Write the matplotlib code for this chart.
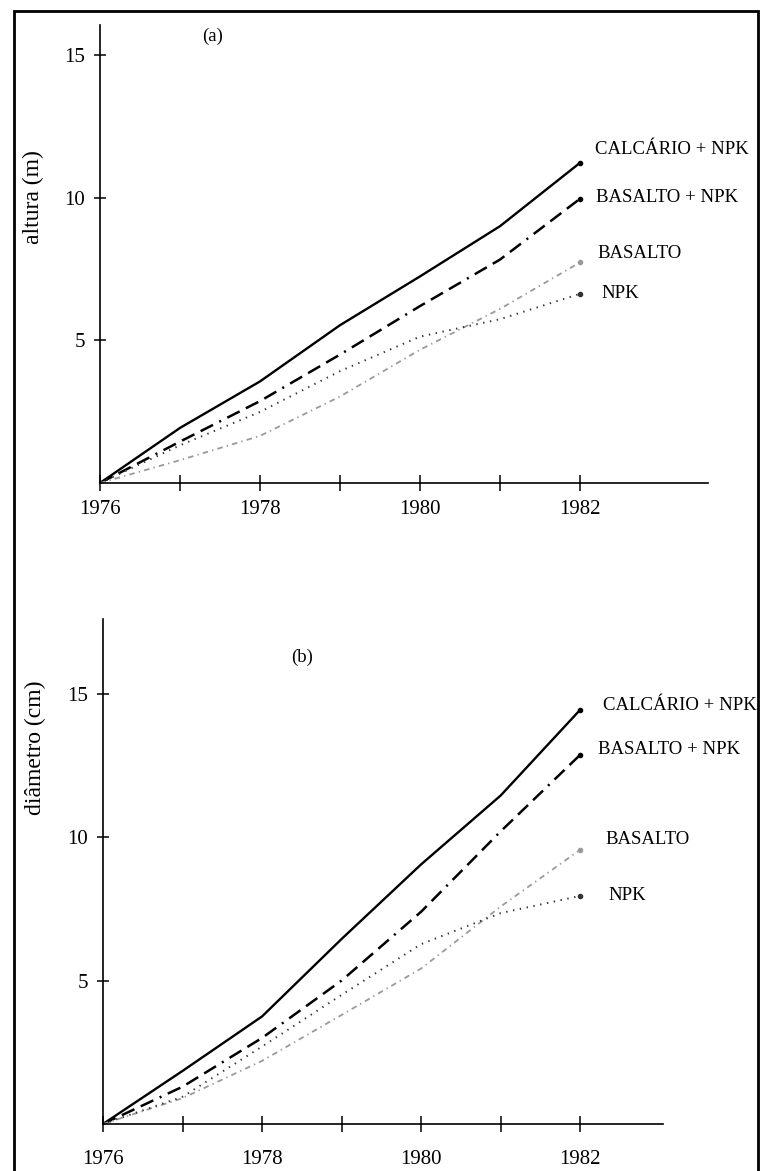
import matplotlib
matplotlib.use("Agg")
import matplotlib.pyplot as plt
from matplotlib.patches import Rectangle

plt.rcParams["font.family"] = ["Liberation Serif", "DejaVu Serif"]
plt.rcParams["lines.scale_dashes"] = False

W, H = 760, 1171

years = [1976, 1977, 1978, 1979, 1980, 1981, 1982]
series_names = ["CALCÁRIO + NPK", "BASALTO + NPK", "BASALTO", "NPK"]

# (a) altura (m)
calc_npk_a = [0, 1.93, 3.56, 5.53, 7.24, 9.0, 11.22]
bas_npk_a = [0, 1.45, 2.87, 4.5, 6.2, 7.83, 9.96]
basalto_a = [0, 0.8, 1.65, 3.03, 4.67, 6.1, 7.73]
npk_a = [0, 1.32, 2.49, 3.92, 5.13, 5.74, 6.63]

# (b) diametro (cm)
calc_npk_b = [0, 1.85, 3.75, 6.45, 9.05, 11.45, 14.44]
bas_npk_b = [0, 1.3, 3.0, 5.0, 7.4, 10.2, 12.87]
basalto_b = [0, 0.9, 2.2, 3.8, 5.42, 7.58, 9.56]
npk_b = [0, 0.95, 2.7, 4.5, 6.27, 7.35, 7.95]

x_major = [1976, 1978, 1980, 1982]
x_minor = [1977, 1979, 1981]
y_ticks = [5, 10, 15]

styles = [
    dict(color="black", lw=1.7, ls="-"),
    dict(color="black", lw=1.8, ls=(0, (10, 5, 10, 5, 10, 5, 1.5, 5))),
    dict(color="#9a9a9a", lw=1.3, ls=(0, (4, 3, 1, 3))),
    dict(color="#333333", lw=1.4, ls=(0, (1, 4))),
]


def px(x, y):
    return x / W, 1 - y / H


def panel(ax, data, xmax, ymax, xpad):
    for vals, st in zip(data, styles):
        ax.plot(years, vals, color=st["color"], lw=st["lw"], ls=st["ls"],
                marker="o", markersize=3, markevery=[len(years) - 1],
                solid_capstyle="round", clip_on=False)
    ax.set_xlim(1976, xmax)
    ax.set_ylim(0, ymax)
    for s in ("top", "right"):
        ax.spines[s].set_visible(False)
    for s in ("left", "bottom"):
        ax.spines[s].set_linewidth(1.2)
    ax.set_xticks(x_major)
    ax.set_xticks(x_minor, minor=True)
    ax.set_yticks(y_ticks)
    ax.tick_params(axis="x", which="both", direction="inout", length=11,
                   width=1.1, pad=xpad, labelsize=15)
    ax.tick_params(axis="y", direction="inout", length=8, width=1.1,
                   pad=6.5, labelsize=15)


fig = plt.figure(figsize=(W / 100, H / 100), dpi=100)

ax_a = fig.add_axes([100 / W, 1 - 483 / H, 608 / W, 458 / H])
panel(ax_a, [calc_npk_a, bas_npk_a, basalto_a, npk_a], 1983.6, 16.05, 7)

ax_b = fig.add_axes([103 / W, 1 - 1124 / H, 560 / W, 505 / H])
panel(ax_b, [calc_npk_b, bas_npk_b, basalto_b, npk_b], 1983.04, 17.6, 13)

# axis titles
fig.text(*px(33, 197), "altura (m)", fontsize=17, rotation=90,
         ha="center", va="center")
fig.text(*px(35, 748), "diâmetro (cm)", fontsize=17, rotation=90,
         ha="center", va="center")

# panel letters
fig.text(*px(213, 36), "(a)", fontsize=13.5, ha="center", va="center")
fig.text(*px(302, 657), "(b)", fontsize=13.5, ha="center", va="center")

# series labels
labels_a = [(595, 150), (596, 197), (597, 253), (601, 294)]
labels_b = [(603, 705), (598, 750), (605, 840), (608, 895)]
for name, (lx, ly) in zip(series_names, labels_a):
    fig.text(*px(lx, ly), name, fontsize=13.5, ha="left", va="center")
for name, (lx, ly) in zip(series_names, labels_b):
    fig.text(*px(lx, ly), name, fontsize=13.5, ha="left", va="center")

# outer frame
fig.patches.append(Rectangle((14 / W, -0.01), (758 - 14) / W, 1.01 - 11 / H,
                             transform=fig.transFigure, fill=False,
                             edgecolor="black", lw=2.0))

fig.savefig("out.png", dpi=100)
